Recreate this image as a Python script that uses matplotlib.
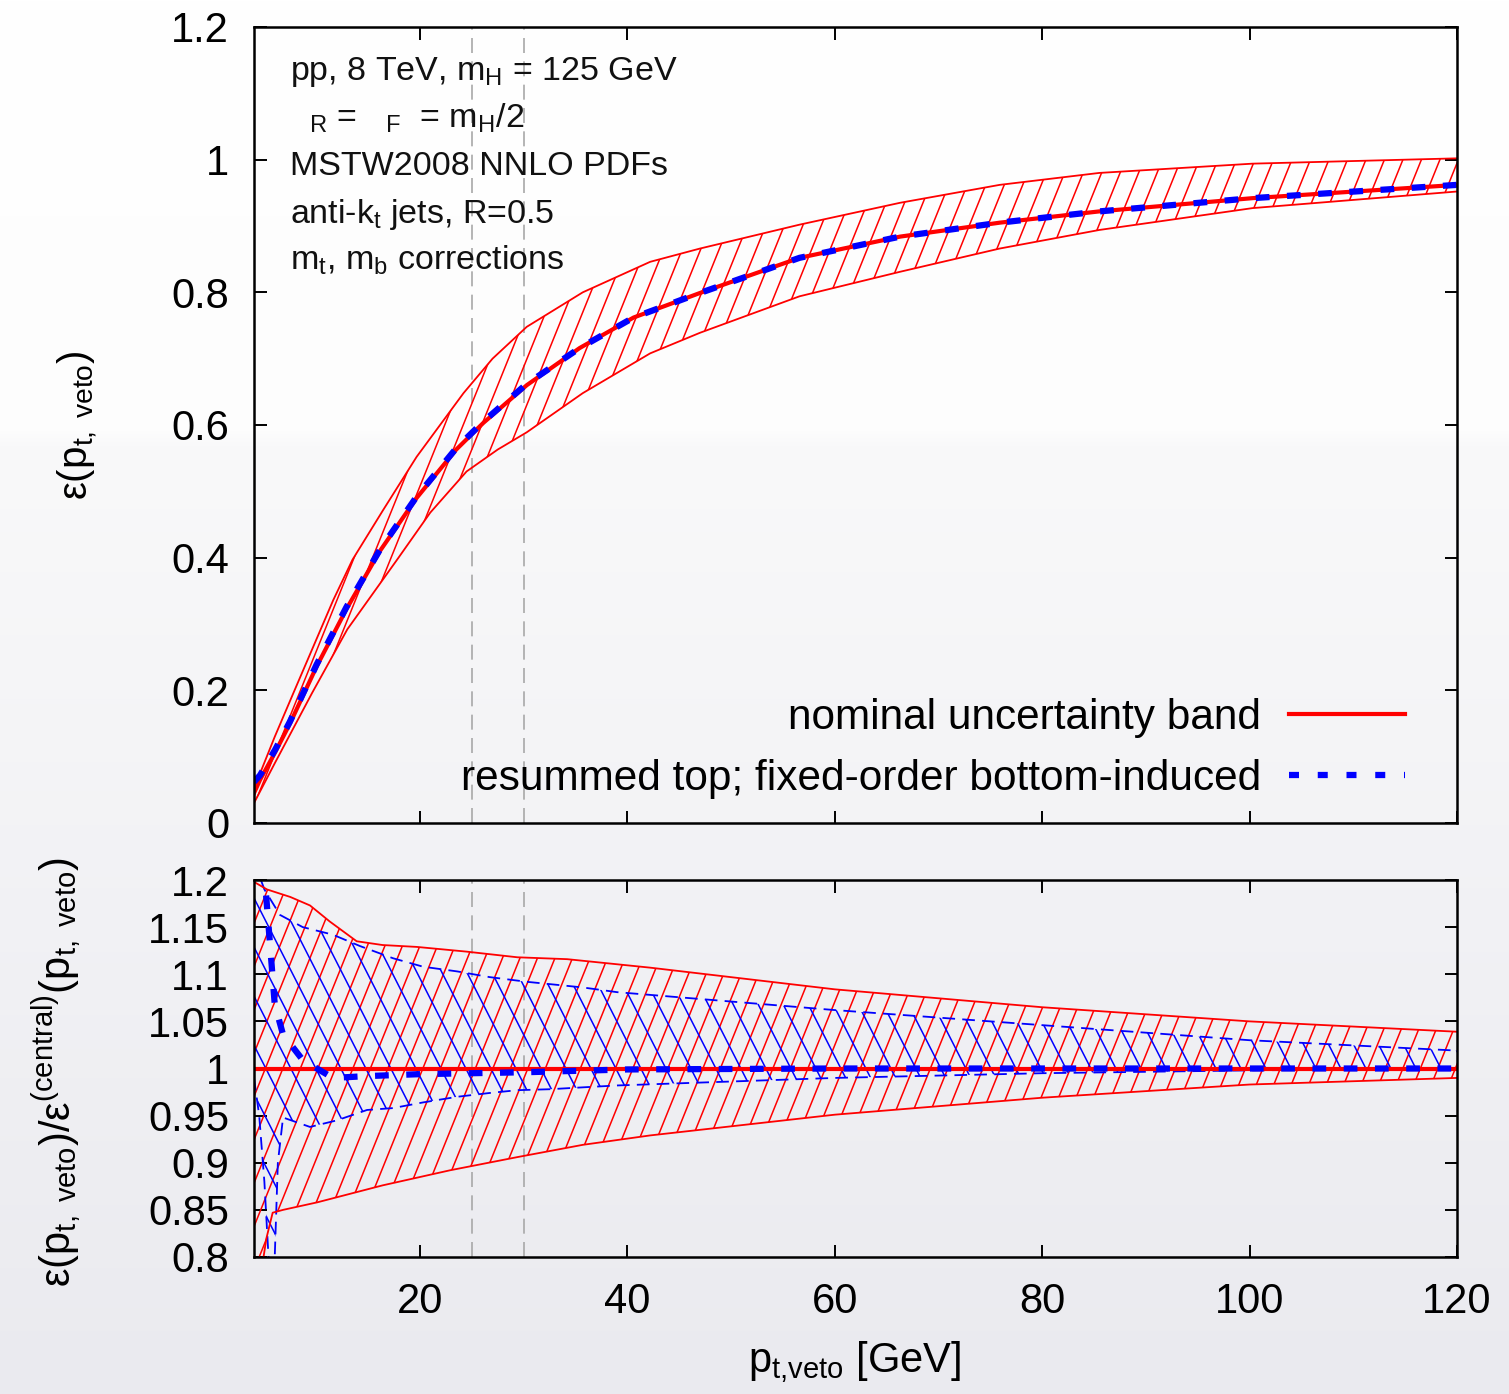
import numpy as np
import matplotlib
matplotlib.use("Agg")
import matplotlib.pyplot as plt
from matplotlib.collections import LineCollection
from matplotlib.lines import Line2D

plt.rcParams['font.family'] = ['Liberation Sans', 'DejaVu Sans']
plt.rcParams['mathtext.fontset'] = 'custom'
plt.rcParams['mathtext.rm'] = 'Liberation Sans'
plt.rcParams['mathtext.it'] = 'Liberation Sans:italic'

# ---------------- data ----------------
# top panel: efficiency
top_central_x = [4, 4.58, 6.02, 7.47, 10.04, 12.93, 16.14, 19.68, 23.5, 26.1, 30.3, 35.4, 40.6, 47, 56.6, 66.3, 75.9, 85.5, 100.3, 120]
top_central_y = [0.045, 0.065, 0.106, 0.150, 0.236, 0.323, 0.410, 0.490, 0.563, 0.603, 0.660, 0.716, 0.762, 0.799, 0.852, 0.884, 0.905, 0.922, 0.942, 0.962]
top_blue_y = [0.062, 0.072, 0.110, 0.153, 0.239, 0.326, 0.412, 0.492, 0.565, 0.605, 0.662, 0.716, 0.762, 0.799, 0.852, 0.884, 0.905, 0.922, 0.942, 0.962]

top_upper_x = [4, 6, 7.8, 11.64, 13.5, 16.46, 19.68, 24.2, 27.0, 30.3, 35.7, 42.2, 47, 56.6, 66.3, 75.9, 85.5, 100.3, 120]
top_upper_y = [0.052, 0.13, 0.196, 0.336, 0.397, 0.472, 0.552, 0.648, 0.700, 0.748, 0.800, 0.846, 0.866, 0.902, 0.935, 0.962, 0.980, 0.994, 1.002]

top_lower_x = [4, 6, 9.6, 13.0, 17.8, 21.0, 24.5, 27.5, 30.3, 35.7, 42.2, 47, 56.6, 66.3, 75.9, 85.5, 100.3, 120]
top_lower_y = [0.030, 0.090, 0.196, 0.292, 0.397, 0.468, 0.530, 0.563, 0.589, 0.648, 0.708, 0.739, 0.794, 0.831, 0.866, 0.894, 0.927, 0.952]

# bottom panel: ratio to central
rat_red_up_x = [4, 5.25, 7.5, 9.4, 11.3, 13.9, 16.4, 19.7, 24.5, 29.4, 34.2, 42.2, 60, 80, 100, 120]
rat_red_up_y = [1.198, 1.19, 1.182, 1.173, 1.156, 1.135, 1.131, 1.129, 1.124, 1.118, 1.116, 1.107, 1.084, 1.065, 1.05, 1.039]
rat_red_lo_x = [4, 4.5, 5.2, 5.8, 6.8, 10.1, 16.4, 22.9, 29.4, 35.7, 42.2, 60, 80, 100, 120]
rat_red_lo_y = [0.72, 0.77, 0.82, 0.847, 0.85, 0.858, 0.876, 0.892, 0.906, 0.919, 0.929, 0.951, 0.969, 0.983, 0.99]
rat_red_c_x = [4, 120]
rat_red_c_y = [1.0, 1.0]

rat_blue_up_x = [4, 5, 6.5, 8.7, 11.6, 14.2, 17.4, 20.3, 23.6, 26.7, 30.3, 35.7, 39, 60, 80, 100, 120]
rat_blue_up_y = [1.22, 1.19, 1.163, 1.15, 1.142, 1.13, 1.117, 1.108, 1.103, 1.097, 1.092, 1.086, 1.081, 1.062, 1.046, 1.03, 1.019]
rat_blue_lo_x = [4, 4.5, 5, 5.4, 5.7, 6.0, 6.3, 6.8, 9.4, 12, 14.9, 17.4, 20.3, 23.6, 26.7, 29.4, 32.5, 35.7, 39, 60, 80, 100, 120]
rat_blue_lo_y = [0.99, 0.95, 0.88, 0.8, 0.76, 0.8, 0.9, 0.948, 0.938, 0.945, 0.956, 0.958, 0.964, 0.97, 0.974, 0.977, 0.978, 0.98, 0.982, 0.99, 0.995, 0.998, 1.0]
rat_blue_c_x = [4.3, 5.1, 5.5, 6.0, 6.8, 8.7, 11.6, 15, 20, 30, 40, 60, 120]
rat_blue_c_y = [1.215, 1.193, 1.138, 1.068, 1.036, 1.009, 0.99, 0.992, 0.994, 0.996, 0.999, 1.0, 1.0]

vlines_x = [25, 30]
x_ticks = [20, 40, 60, 80, 100, 120]
top_yticks = [0, 0.2, 0.4, 0.6, 0.8, 1.0, 1.2]
bot_yticks = [0.8, 0.85, 0.9, 0.95, 1.0, 1.05, 1.1, 1.15, 1.2]

legend_labels = ["nominal uncertainty band", "resummed top; fixed-order bottom-induced"]
info_lines = [
    r"pp, 8 TeV, m$_{\mathrm{H}}$ = 125 GeV",
    r"  $_{\mathrm{R}}$ =   $_{\mathrm{F}}$  = m$_{\mathrm{H}}$/2",
    r"MSTW2008 NNLO PDFs",
    r"anti-k$_{\mathrm{t}}$ jets, R=0.5",
    r"m$_{\mathrm{t}}$, m$_{\mathrm{b}}$ corrections",
]

RED = '#ff0000'
BLUE = '#0000ff'

# ---------------- figure ----------------
W_PX, H_PX = 1509, 1394
fig = plt.figure(figsize=(W_PX / 100, H_PX / 100), dpi=100)
fig.patch.set_facecolor('white')

# slide-like background gradient
bg = fig.add_axes([0, 0, 1, 1], zorder=-10)
rows = np.arange(H_PX)
g = np.interp(rows, [0, 430, 445, H_PX], [255, 253, 249, 234])
b = np.interp(rows, [0, 430, 445, H_PX], [255, 253, 250, 239])
img = np.stack([g, g, b], axis=1)[:, None, :].repeat(2, axis=1) / 255.0
bg.imshow(img, aspect='auto', extent=[0, 1, 0, 1], origin='upper')
bg.set_axis_off()

L, R = 254 / W_PX, 1457 / W_PX
ax1 = fig.add_axes([L, 1 - 823 / H_PX, R - L, 796 / H_PX])
ax2 = fig.add_axes([L, 1 - 1257 / H_PX, R - L, 377 / H_PX])
for ax in (ax1, ax2):
    ax.set_facecolor('none')


def hatch_band(ax, x_lo, y_lo, x_hi, y_hi, angle_deg, spacing_px, color, lw):
    xs = np.concatenate([np.asarray(x_lo, float), np.asarray(x_hi, float)[::-1]])
    ys = np.concatenate([np.asarray(y_lo, float), np.asarray(y_hi, float)[::-1]])
    poly = ax.fill(xs, ys, facecolor='none', edgecolor='none')[0]
    bb = ax.get_position()
    Wp = bb.width * W_PX
    Hp = bb.height * H_PX
    shift = Hp / np.tan(np.radians(angle_deg))
    starts = np.arange(-abs(shift) - spacing_px, Wp + abs(shift) + spacing_px, spacing_px)
    segs = [[(s / Wp, 0.0), ((s + shift) / Wp, 1.0)] for s in starts]
    lc = LineCollection(segs, transform=ax.transAxes, colors=color, linewidths=lw)
    ax.add_collection(lc, autolim=False)
    lc.set_clip_path(poly)
    return lc


# ---------------- top panel ----------------
hatch_band(ax1, top_lower_x, top_lower_y, top_upper_x, top_upper_y, 68, 18.5, RED, 1.1)
ax1.plot(top_upper_x, top_upper_y, color=RED, lw=1.3)
ax1.plot(top_lower_x, top_lower_y, color=RED, lw=1.3)
ax1.plot(top_central_x, top_central_y, color=RED, lw=3.0)
ax1.plot(top_central_x, top_blue_y, color=BLUE, lw=4.5, dashes=(2.2, 2.8))
for xv in vlines_x:
    ax1.axvline(xv, color='#a8a8a8', lw=1.2, dashes=(9, 5), zorder=0.5)

ax1.set_xlim(4, 120)
ax1.set_ylim(0, 1.2)
ax1.set_xticks(x_ticks)
ax1.set_xticklabels([])
ax1.set_yticks(top_yticks)
ax1.set_yticklabels(['%g' % v for v in top_yticks])

for i, t in enumerate(info_lines):
    py = 80 + 47.5 * i
    ax1.text(0.030, (823 - py) / 796, t, transform=ax1.transAxes, fontsize=24.5,
             ha='left', va='baseline', color='#111111')

h1 = Line2D([], [], color=RED, lw=3.0)
h2 = Line2D([], [], color=BLUE, lw=4.5, dashes=(1.6, 3.0))
leg = ax1.legend([h1, h2], legend_labels, loc='lower right', bbox_to_anchor=(0.957, 0.030),
                 frameon=False, markerfirst=False, fontsize=30.5, handlelength=2.75,
                 handletextpad=0.65, labelspacing=0.5, borderpad=0, borderaxespad=0)

# ---------------- bottom panel ----------------
hatch_band(ax2, rat_red_lo_x, rat_red_lo_y, rat_red_up_x, rat_red_up_y, 68, 17.5, RED, 1.1)
hatch_band(ax2, rat_blue_lo_x, rat_blue_lo_y, rat_blue_up_x, rat_blue_up_y, -63, 25, BLUE, 1.1)
ax2.plot(rat_blue_up_x, rat_blue_up_y, color=BLUE, lw=1.3, dashes=(7, 4))
ax2.plot(rat_blue_lo_x, rat_blue_lo_y, color=BLUE, lw=1.3, dashes=(7, 4))
ax2.plot(rat_red_up_x, rat_red_up_y, color=RED, lw=1.3)
ax2.plot(rat_red_lo_x, rat_red_lo_y, color=RED, lw=1.3)
ax2.plot(rat_red_c_x, rat_red_c_y, color=RED, lw=3.0)
ax2.plot(rat_blue_c_x, rat_blue_c_y, color=BLUE, lw=4.5, dashes=(2.2, 2.8))
for xv in vlines_x:
    ax2.axvline(xv, color='#a8a8a8', lw=1.2, dashes=(9, 5), zorder=0.5)

ax2.set_xlim(4, 120)
ax2.set_ylim(0.8, 1.2)
ax2.set_xticks(x_ticks)
ax2.set_xticklabels(['%g' % v for v in x_ticks])
ax2.set_yticks(bot_yticks)
ax2.set_yticklabels(['%g' % v for v in bot_yticks])

for ax in (ax1, ax2):
    ax.tick_params(direction='in', top=True, right=True, length=9, width=1.4,
                   labelsize=30, colors='black')
    ax.tick_params(axis='y', pad=18)
    ax.tick_params(axis='x', pad=18)
    for sp in ax.spines.values():
        sp.set_linewidth(1.8)

# axis labels
fig.text(78 / W_PX, 1 - 425 / H_PX, r"ε(p$_{\mathrm{t,\ veto}}$)", rotation=90,
         ha='center', va='center', fontsize=29)
fig.text(57 / W_PX, 1 - 1072 / H_PX,
         r"ε(p$_{\mathrm{t,\ veto}}$)/ε$^{\mathrm{(central)}}$(p$_{\mathrm{t,\ veto}}$)",
         rotation=90, ha='center', va='center', fontsize=30)
fig.text(855 / W_PX, 1 - 1362 / H_PX, r"p$_{\mathrm{t{,}veto}}$ [GeV]",
         ha='center', va='center', fontsize=30)

fig.savefig('out.png', dpi=100)
